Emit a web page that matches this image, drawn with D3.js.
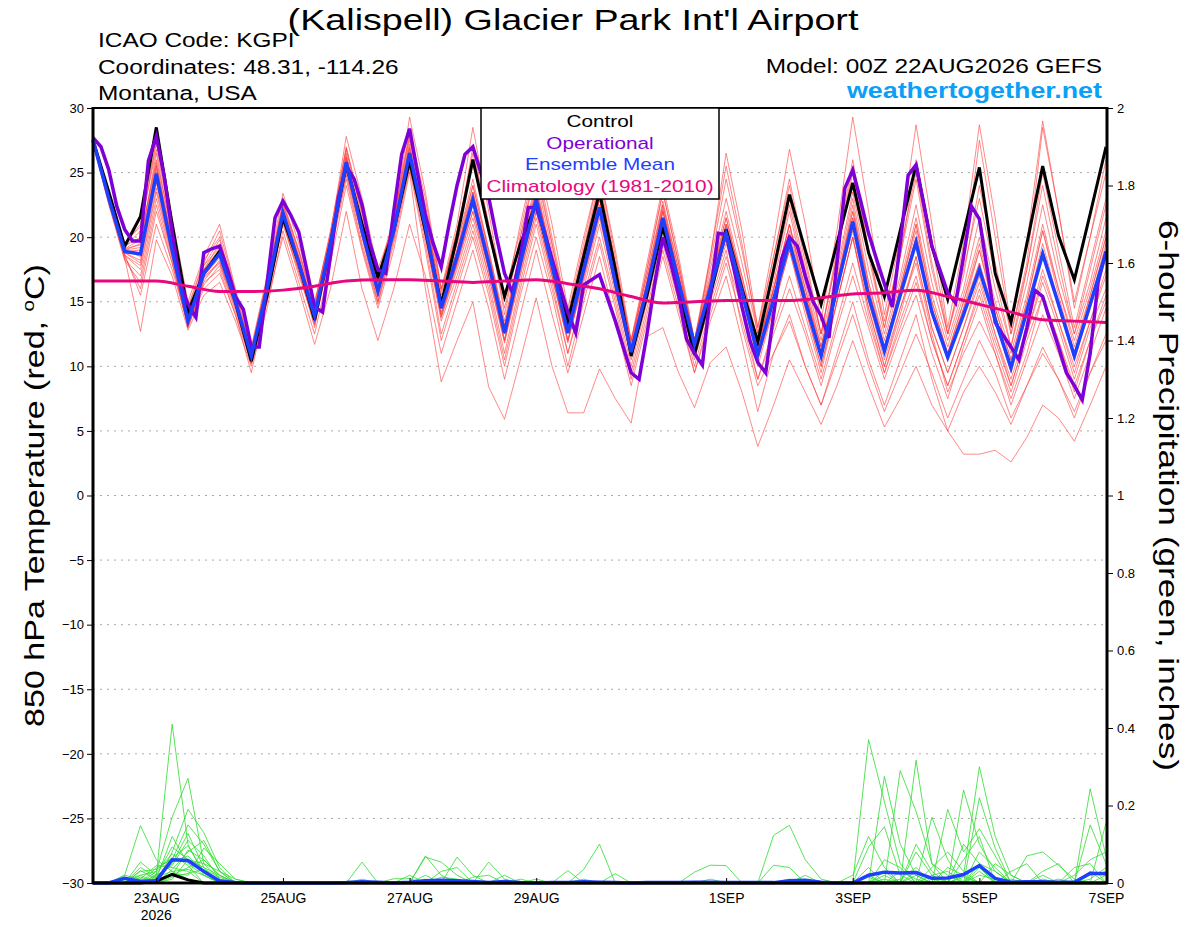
<!doctype html>
<html>
<head>
<meta charset="utf-8">
<title>GEFS 850 hPa Temperature - KGPI</title>
<script src="https://d3js.org/d3.v7.min.js"></script>
<style>
  body { margin: 0; padding: 0; background: #fff; }
  svg { display: block; font-family: "Liberation Sans", Arial, Helvetica, sans-serif; }
  .grid line { stroke: #aaa; stroke-width: 1; stroke-dasharray: 2,5; }
  .axis text { font-size: 13px; fill: #000; }
  .axis line { stroke: #000; stroke-width: 1; }
</style>
</head>
<body>
<div id="chart"></div>
<script>
// ---- data (6-hourly steps from 00Z 22AUG2026) ----
var stepHours = d3.range(0, 385, 6);

var controlTemp = [27.5,23.5,19.3,21.6,28.5,21.0,14.2,17.2,18.9,15.0,10.4,15.5,21.5,18.0,13.6,19.5,25.6,21.0,16.9,20.5,25.9,
  20.5,14.8,20.0,26.0,20.5,15.4,19.5,22.6,18.0,13.5,18.5,23.5,17.5,10.8,15.5,20.8,16.0,10.9,15.5,20.6,
  16.0,11.9,17.5,23.3,19.0,14.8,19.5,24.2,18.8,15.4,20.5,25.6,19.3,15.2,20.3,25.4,17.2,13.4,19.5,25.5,20.1,16.7,21.8,27.0];

var meanTemp = [27.5,23.0,18.9,18.7,24.9,19.0,13.5,17.2,18.7,15.0,10.8,16.0,21.9,18.0,13.9,19.5,25.8,20.5,15.8,20.5,26.5,
  20.8,14.5,18.5,22.9,18.0,12.6,18.0,22.9,17.8,12.6,17.5,22.3,16.5,11.1,16.0,21.5,16.5,11.7,16.0,20.3,
  15.8,10.9,15.2,19.6,15.0,10.8,16.0,21.2,15.4,11.2,15.5,19.6,14.2,10.7,14.0,17.5,13.6,9.9,14.3,18.7,14.8,10.8,14.8,18.8];

// operational run, 3-hourly
var opTemp = [27.7,27.0,25.2,22.4,20.6,19.7,19.7,25.9,27.8,24.7,20.4,16.5,14.8,13.8,18.8,19.1,19.3,17.5,15.4,14.4,11.5,11.5,
  16.5,21.5,22.8,21.7,20.4,17.5,14.6,14.2,18.5,23.0,25.5,24.5,22.5,19.5,17.5,17.2,22.0,26.4,28.4,25.0,21.7,19.5,17.7,
  21.0,24.0,26.4,27.0,25.0,23.1,20.0,17.2,15.7,18.5,22.3,22.3,20.5,18.3,16.2,14.2,12.6,16.3,16.7,17.1,15.3,13.5,11.5,
  9.5,9.0,12.5,16.5,20.0,18.0,15.5,12.1,11.0,10.1,15.5,20.3,20.2,17.5,14.6,12.0,10.3,9.5,14.0,18.3,20.0,19.3,17.0,15.0,
  13.9,12.2,18.0,23.8,25.2,22.8,20.3,18.3,16.4,14.6,19.5,24.8,25.6,22.5,19.3,17.5,15.7,14.9,18.5,22.4,21.4,17.5,13.4,
  12.4,11.5,10.5,13.0,15.9,15.4,13.4,11.5,9.5,8.5,7.4,11.0,16.5,18.9];

// climatology, 12-hourly
var climTemp = [16.6,16.6,16.6,16.2,15.8,15.8,15.9,16.2,16.6,16.7,16.7,16.6,16.5,16.6,16.7,16.4,16.0,15.4,14.9,15.0,15.1,
  15.1,15.1,15.3,15.6,15.7,15.9,15.4,14.8,14.2,13.6,13.5,13.4];

var memberTemp = [
  [27.6,23.2,19.0,19.5,26.5,20.0,14.0,17.5,19.5,15.2,10.5,16.2,22.5,18.5,14.2,20.0,26.5,21.0,16.2,21.0,27.5,22.0,15.5,20.5,26.0,20.5,14.5,20.0,25.0,19.5,13.8,19.0,24.0,18.0,11.8,17.0,22.5,17.5,12.0,17.5,23.0,18.0,12.5,18.5,24.5,18.5,12.5,19.0,26.0,19.0,13.0,19.0,25.0,18.0,12.5,17.5,23.0,17.0,11.5,17.5,24.0,18.0,12.5,17.5,22.5],
  [27.4,22.8,18.6,17.5,23.5,18.5,13.2,16.8,18.0,14.5,10.2,15.5,21.5,17.5,13.0,19.0,25.0,20.0,15.0,20.0,26.0,20.0,13.8,17.5,21.5,17.0,11.8,17.0,22.0,17.0,12.0,16.5,21.5,16.0,10.8,15.5,20.5,16.0,11.2,15.5,19.5,15.0,10.0,14.5,19.0,14.0,9.5,15.0,20.0,14.5,10.0,14.5,18.5,13.0,9.5,13.0,16.5,12.5,8.5,12.5,17.0,13.5,10.0,13.5,17.0],
  [27.5,23.0,19.2,20.5,27.3,21.0,14.5,18.0,20.5,15.8,11.2,16.8,22.8,19.0,14.8,20.5,27.0,22.0,17.0,21.5,28.2,23.0,16.0,21.0,28.5,22.0,15.0,21.0,26.5,21.0,14.5,20.0,25.0,19.0,12.0,18.0,24.0,18.5,12.0,18.5,26.5,20.5,13.0,19.5,26.8,21.0,13.5,20.5,29.3,22.0,14.0,20.0,28.7,21.0,13.0,19.5,28.7,21.5,13.0,19.5,29.0,22.0,14.5,20.0,26.0],
  [27.3,22.6,18.4,12.7,19.8,17.0,12.8,15.5,16.5,13.5,10.0,14.5,20.5,16.5,12.5,18.0,24.0,19.0,14.5,19.0,25.0,16.0,8.8,12.0,15.0,8.4,5.9,10.5,15.3,10.0,6.4,6.4,9.8,7.5,5.6,12.3,13.0,9.5,6.8,10.3,11.5,8.0,3.8,7.0,10.5,8.0,5.5,8.5,12.0,8.5,5.3,7.5,10.0,7.0,5.0,3.2,3.2,3.5,2.6,4.5,7.0,6.0,4.2,7.0,10.0],
  [27.6,23.1,18.8,18.0,25.5,19.5,13.8,17.0,19.0,14.8,11.0,16.5,22.0,18.2,13.5,19.5,26.0,20.5,16.5,20.8,27.0,21.0,14.2,18.0,22.5,17.5,12.0,17.5,22.5,17.0,11.8,17.0,22.0,16.0,10.5,15.5,21.0,16.0,11.0,15.5,20.0,16.0,11.0,16.0,20.0,15.5,11.5,16.5,21.5,15.5,11.0,15.5,20.0,14.5,11.0,14.5,18.0,14.0,10.0,14.5,19.0,15.0,11.0,15.0,19.0],
  [27.5,23.3,19.5,21.0,27.5,21.5,15.0,18.5,21.0,16.0,11.5,17.0,23.4,19.5,15.0,20.2,27.8,23.0,17.5,21.0,29.3,23.5,16.0,20.0,27.0,21.0,15.5,20.5,26.0,20.0,14.0,19.5,25.0,18.5,11.5,17.5,23.5,18.0,11.5,18.5,25.5,19.5,12.5,17.5,23.0,17.5,12.5,18.5,25.5,19.0,13.5,18.5,26.0,19.5,12.5,18.0,27.5,20.0,12.5,18.0,28.5,22.0,15.0,20.0,25.0],
  [27.4,22.9,18.5,16.0,22.0,18.0,13.0,16.5,17.5,14.0,9.5,15.0,20.0,16.0,11.7,16.0,22.0,16.0,12.0,16.0,21.0,17.0,11.0,15.0,19.0,14.5,9.0,14.0,19.0,14.0,9.5,14.0,18.5,13.5,8.5,13.5,18.5,14.0,9.5,13.5,17.0,12.0,6.5,11.0,14.0,10.0,7.0,11.0,15.0,10.5,7.0,10.5,14.0,9.0,5.0,8.0,10.0,8.0,5.5,8.5,11.0,9.0,6.5,9.5,12.0],
  [27.5,23.0,18.9,19.0,24.5,19.0,13.6,17.5,18.5,15.0,10.8,16.0,21.8,18.0,14.0,19.5,25.5,20.5,15.8,20.5,26.5,20.5,14.0,18.0,23.0,17.5,12.5,18.0,23.5,18.0,13.0,17.5,23.0,17.0,11.5,16.0,22.0,17.0,11.5,16.5,21.5,16.5,11.5,16.0,21.0,16.0,11.0,16.5,22.5,16.0,11.5,16.0,21.0,15.0,11.0,15.0,19.0,14.5,10.5,15.0,20.5,16.0,11.5,15.5,20.0],
  [27.6,23.4,19.3,20.0,26.0,20.5,14.2,17.8,19.8,15.5,11.0,16.5,22.5,18.8,14.5,20.0,26.8,21.5,16.8,21.2,27.8,21.8,15.0,19.5,24.5,19.0,13.5,19.0,24.0,18.5,13.0,18.0,23.0,17.0,11.0,16.5,22.5,17.0,11.8,16.5,21.0,16.0,10.5,15.0,19.5,15.5,11.0,16.0,20.5,15.0,10.5,14.5,18.0,12.5,8.0,11.0,13.5,11.0,7.0,10.5,14.0,11.0,7.5,11.0,14.5],
  [27.3,22.7,18.3,17.0,23.0,18.3,13.0,16.3,17.8,14.3,10.3,15.3,21.0,17.3,13.2,18.8,24.8,19.5,15.0,19.8,25.5,19.5,12.5,16.5,20.5,16.0,10.5,16.0,21.0,16.0,11.0,15.5,20.0,15.0,9.5,14.5,19.5,15.0,10.0,14.5,18.5,14.5,9.0,12.5,16.0,12.5,8.5,13.0,17.0,13.0,9.0,12.5,15.5,11.0,7.5,11.5,15.0,11.0,7.5,11.0,15.5,12.0,8.0,12.0,15.0],
  [27.5,23.1,19.0,18.5,25.0,19.2,13.7,17.3,18.8,15.2,10.6,16.2,22.2,18.3,14.0,19.8,26.2,20.8,16.0,20.6,26.8,21.0,14.8,19.0,23.5,18.5,13.0,18.5,23.5,18.5,13.0,18.0,23.0,17.0,11.5,16.5,22.0,17.0,12.0,16.5,21.0,16.5,11.5,16.5,22.0,16.5,11.5,17.0,23.0,16.5,12.0,16.5,21.5,15.5,11.5,15.5,20.0,15.0,11.0,15.5,21.0,16.0,12.0,16.0,20.5],
  [27.4,22.8,18.7,15.5,21.0,17.5,13.2,16.0,17.2,14.0,10.2,15.0,21.2,17.0,13.5,19.2,25.2,20.0,15.5,20.3,26.2,20.0,13.5,17.0,21.0,16.5,11.0,16.5,21.5,16.5,11.0,16.0,21.0,15.5,10.0,15.0,20.0,15.5,10.5,15.0,19.0,13.0,8.5,11.0,13.5,10.0,7.0,10.5,14.0,10.0,6.5,9.5,12.5,9.5,6.0,9.0,12.0,9.5,6.0,8.5,11.5,9.0,6.0,9.5,12.5],
  [27.5,23.0,19.1,19.8,25.8,19.8,13.9,17.8,19.2,15.3,10.9,16.3,22.0,18.5,14.3,19.9,26.3,21.2,16.3,20.9,27.2,22.0,15.2,19.5,24.0,19.0,13.2,19.0,24.5,19.0,13.5,18.5,23.5,17.5,12.0,17.0,22.8,17.5,12.0,17.0,22.0,17.0,12.0,17.0,22.5,17.0,12.0,17.5,23.5,17.5,12.5,17.0,22.5,16.5,12.0,16.0,21.5,16.0,11.5,16.5,22.5,17.0,12.5,16.5,21.5],
  [27.6,23.2,18.8,18.2,24.2,18.8,13.4,17.0,18.4,14.8,10.7,15.8,21.6,17.8,13.8,19.3,25.5,20.3,15.6,20.4,26.4,20.5,14.0,18.0,22.0,17.5,12.0,17.5,22.5,17.5,12.0,17.0,22.0,16.0,10.8,15.8,21.0,16.0,11.5,15.8,20.0,15.5,10.5,15.0,19.5,14.5,10.0,15.0,20.0,14.0,9.5,13.5,17.0,12.0,8.5,12.0,15.5,11.5,8.0,12.0,15.5,12.0,8.5,12.0,15.5],
  [27.5,23.0,19.0,19.2,25.3,19.5,13.7,17.4,18.9,15.1,10.8,16.1,21.9,18.1,14.1,19.6,25.9,20.6,15.9,20.7,26.6,21.3,15.0,19.0,24.0,18.8,13.0,18.5,23.8,18.3,13.0,18.0,23.0,17.0,11.5,16.5,22.0,17.0,12.0,16.8,21.5,16.5,11.5,16.0,21.0,15.5,11.0,16.5,22.0,16.0,11.5,16.0,20.5,14.5,10.5,14.5,19.0,14.0,10.0,14.5,19.5,15.0,11.0,15.0,19.5],
  [27.3,22.5,18.2,16.5,22.5,18.0,13.1,16.6,18.2,14.6,10.4,15.6,21.3,17.4,13.3,18.7,24.5,19.2,14.8,19.5,25.3,19.0,12.0,16.0,20.0,15.5,10.0,15.5,20.0,15.5,10.0,15.0,19.5,14.5,9.0,14.0,19.0,14.5,9.5,14.0,18.0,13.5,9.0,13.0,17.0,13.0,9.0,13.5,18.0,13.5,9.5,13.0,16.5,12.0,8.5,12.0,16.0,12.0,8.5,12.5,16.5,13.0,9.0,13.0,16.0],
  [27.7,23.5,19.6,20.8,26.8,20.8,14.6,18.2,20.0,15.6,11.3,16.7,22.6,19.0,14.7,20.3,26.9,21.8,16.9,21.3,28.0,22.5,15.8,20.5,26.5,21.0,14.0,20.0,25.5,19.5,13.5,19.0,24.5,18.0,12.0,17.5,23.5,18.0,12.0,18.0,24.5,19.0,13.0,18.5,24.0,18.0,12.5,18.5,25.0,18.5,13.0,18.5,24.5,17.5,12.5,17.0,24.0,18.0,12.5,17.5,25.0,19.0,13.0,18.0,23.0],
  [27.5,23.0,18.9,18.8,24.8,19.1,13.5,17.1,18.6,14.9,10.7,15.9,21.7,17.9,13.9,19.4,25.6,20.4,15.7,20.3,26.3,20.5,14.5,18.5,23.0,18.0,12.5,18.0,23.0,17.8,12.5,17.5,22.5,16.5,11.0,16.0,21.5,16.5,11.5,16.0,20.5,16.0,11.0,15.5,20.5,15.5,11.0,16.0,21.5,15.5,11.0,15.5,20.0,14.0,10.5,14.0,18.0,13.5,9.5,14.0,19.0,14.5,10.5,14.5,18.5],
  [27.4,22.9,18.6,17.8,23.8,18.6,13.3,16.9,18.1,14.6,10.5,15.7,21.4,17.6,13.6,19.1,25.3,20.1,15.4,20.1,25.9,20.0,13.8,17.8,22.0,17.0,12.0,17.2,22.0,17.0,12.0,16.8,21.8,16.2,10.8,15.5,21.0,16.2,11.2,15.8,20.0,15.5,10.5,14.5,19.0,14.5,10.0,15.0,20.0,14.5,10.0,14.0,18.5,13.0,9.5,13.0,17.0,12.5,9.0,13.0,17.5,13.5,9.5,13.5,17.5],
  [27.6,23.2,19.1,19.4,25.6,19.6,13.8,17.5,19.1,15.2,10.9,16.2,22.1,18.4,14.2,19.8,26.1,20.9,16.1,20.8,26.9,21.5,15.0,19.0,23.5,18.5,13.0,18.8,23.5,18.5,13.0,18.0,23.0,17.0,11.5,16.5,22.2,17.0,11.8,16.5,21.0,17.0,11.5,16.0,21.0,16.0,11.5,16.5,22.0,16.5,11.5,16.0,21.0,15.0,11.0,15.0,19.5,14.5,10.5,15.0,20.5,15.5,11.0,15.5,20.0]
];

// 6-hour precipitation (inches)
var controlPcp = [0,0,0,0,0.005,0.022,0.008,0,0,0, 0,0,0,0,0,0,0,0,0,0, 0,0,0,0,0,0,0,0,0,0, 0,0,0,0,0,0,0,0,0,0, 0,0,0,0,0,0,0,0,0,0, 0,0,0,0,0,0,0,0,0,0, 0,0,0,0,0];

var meanPcp = [0,0,0.012,0.004,0.006,0.06,0.058,0.03,0.005,0.001, 0,0,0,0,0,0,0.001,0.003,0.002,0, 0.002,0.006,0.007,0.006,0.004,0.001,0.004,0.001,0,0.001,
  0.001,0.003,0.002,0.001,0,0.001,0.001,0.001,0.002,0.002, 0.001,0.001,0.001,0.001,0.006,0.007,0.002,0,0,0.02,
  0.028,0.026,0.027,0.012,0.013,0.022,0.045,0.012,0.002,0.003, 0.003,0.002,0.002,0.025,0.024];

var memberPcp = [
  [0,0,0.02,0.148,0.06,0.03,0.01,0,0,0, 0,0,0,0,0,0,0,0,0,0, 0,0.07,0.02,0,0,0,0,0,0,0, 0,0,0,0,0,0,0,0,0,0, 0,0,0,0,0,0,0,0,0,0.37, 0.21,0.05,0,0,0,0.02,0.3,0.12,0.02,0, 0,0,0,0,0],
  [0,0,0,0.054,0.02,0.41,0.1,0.02,0,0, 0,0,0,0,0,0,0,0,0,0, 0,0,0,0,0,0,0,0,0,0, 0,0,0,0,0,0,0,0,0,0, 0,0,0,0.123,0.149,0.06,0.01,0,0,0, 0,0,0.317,0.05,0.02,0,0,0,0,0, 0,0,0,0.243,0.07],
  [0,0,0.01,0,0.03,0.17,0.27,0.05,0.01,0, 0,0,0,0,0,0,0,0.054,0,0, 0,0,0,0.067,0.02,0,0,0,0,0, 0,0,0,0,0,0,0,0,0,0, 0,0,0,0,0,0,0,0,0,0, 0.275,0.1,0.02,0,0,0,0.22,0.09,0,0, 0,0,0,0,0.155],
  [0,0,0,0.02,0,0.08,0.19,0.13,0.04,0, 0,0,0,0,0,0,0,0,0,0, 0,0,0,0,0,0.054,0.01,0,0,0, 0,0,0,0,0,0,0,0,0,0, 0,0,0,0,0,0,0,0,0,0, 0,0.29,0.185,0.05,0,0.24,0.1,0.03,0,0, 0,0,0,0,0],
  [0,0,0.01,0,0.04,0.06,0.15,0.1,0.03,0, 0,0,0,0,0,0,0,0,0,0, 0,0.067,0.054,0.02,0,0,0,0,0,0, 0,0,0,0,0,0,0,0,0,0, 0,0,0,0,0,0,0,0,0,0.093, 0.145,0.02,0,0,0.19,0.08,0.14,0.07,0,0.07, 0.08,0.046,0.01,0,0],
  [0,0,0,0.032,0.01,0.12,0.05,0.02,0,0, 0,0,0,0,0,0,0,0,0,0, 0,0,0,0,0,0,0,0,0,0, 0,0.035,0.1,0,0,0,0,0,0.028,0.046, 0.045,0,0,0,0,0,0,0,0,0, 0,0,0,0.17,0.06,0,0.04,0,0,0, 0,0,0,0.15,0.05],
  [0,0,0,0,0,0.035,0.08,0.11,0.03,0.01, 0,0,0,0,0,0,0,0,0,0.011, 0.011,0,0,0,0,0,0,0,0,0, 0,0,0,0,0,0,0,0,0,0, 0,0,0,0.046,0.04,0,0,0,0.02,0.12, 0.04,0,0.08,0.02,0,0,0,0,0,0, 0,0,0.02,0.06,0.08],
  [0,0,0.02,0.01,0.045,0.04,0.03,0,0,0, 0,0,0,0,0,0,0,0,0,0, 0,0,0,0,0,0,0,0.01,0,0, 0,0,0,0.024,0,0,0,0,0,0, 0,0,0,0,0,0,0,0,0,0, 0.06,0.04,0,0,0,0,0.05,0.03,0,0, 0.03,0.05,0,0,0],
  [0,0,0,0,0.02,0.093,0.06,0.04,0.02,0, 0,0,0,0,0,0,0,0,0,0, 0,0,0.03,0.04,0,0,0,0,0,0, 0,0,0,0,0,0,0,0,0,0, 0,0,0,0,0,0,0,0,0,0.04, 0,0,0.1,0.03,0,0.06,0.12,0,0.01,0, 0,0,0,0,0],
  [0,0,0,0.015,0,0.02,0.04,0.06,0.02,0, 0,0,0,0,0,0,0,0,0,0, 0,0,0,0,0,0,0,0,0.01,0, 0.032,0,0,0,0,0,0,0,0,0, 0,0,0,0,0.01,0,0,0,0,0, 0,0.03,0.01,0,0,0,0,0,0.03,0.05, 0,0,0,0.03,0],
  [0,0,0,0,0.01,0.05,0.128,0.04,0,0, 0,0,0,0,0,0,0,0.01,0,0, 0,0.02,0,0,0,0,0,0,0,0, 0,0,0,0,0,0,0,0,0,0, 0,0,0,0,0,0.02,0,0,0,0, 0.02,0,0,0.04,0.08,0.03,0,0,0,0, 0,0,0.04,0.05,0],
  [0,0,0,0.03,0.035,0.065,0.096,0.03,0,0, 0,0,0,0,0,0,0,0,0,0, 0,0,0,0,0.015,0.02,0,0,0,0, 0,0,0,0,0,0,0,0,0,0, 0,0,0,0,0,0,0,0,0,0.02, 0,0,0,0,0,0,0.08,0.04,0,0, 0,0,0,0,0.02],
  [0,0,0.015,0,0,0.025,0.02,0.09,0.05,0.01, 0,0,0,0,0,0,0,0,0,0, 0.02,0,0,0,0,0,0,0,0,0, 0,0.01,0,0,0,0,0,0,0,0, 0,0,0,0,0,0,0,0,0,0, 0,0.01,0.04,0,0,0.1,0.05,0,0,0, 0.02,0,0,0,0],
  [0,0,0,0,0.015,0.03,0.035,0.02,0,0, 0,0,0,0,0,0,0,0,0,0, 0,0,0.015,0.01,0,0,0,0,0,0, 0,0,0,0,0,0,0,0,0,0, 0,0,0,0,0,0,0,0,0,0, 0,0,0,0.02,0.03,0,0,0.05,0.02,0, 0,0,0,0.02,0.03],
  [0,0,0,0.01,0,0.01,0.06,0.05,0.03,0, 0,0,0,0,0,0,0,0,0,0, 0,0,0,0,0,0,0.02,0,0,0, 0,0,0,0,0,0,0,0,0,0.01, 0,0,0,0,0,0,0,0,0,0, 0.03,0,0.02,0,0,0,0.03,0,0,0, 0,0.01,0,0,0],
  [0,0,0,0,0.02,0.045,0.11,0.07,0.01,0, 0,0,0,0,0,0,0,0,0,0, 0,0,0,0,0,0,0,0,0,0, 0,0,0,0,0,0,0,0,0,0, 0,0,0,0,0,0,0,0,0,0, 0.01,0,0,0,0,0.015,0,0,0,0, 0,0,0,0,0],
  [0,0,0,0.04,0.015,0.055,0.07,0.025,0,0, 0,0,0,0,0,0,0,0,0,0, 0,0,0,0,0,0,0,0,0,0, 0,0,0,0,0,0,0,0,0,0, 0,0,0,0,0,0,0,0,0,0, 0,0,0,0,0,0,0.02,0.01,0,0, 0,0,0,0,0],
  [0,0,0,0,0,0.015,0.025,0.035,0.015,0, 0,0,0,0,0,0,0,0,0,0, 0,0,0,0,0,0,0,0,0,0, 0,0,0,0,0,0,0,0,0,0, 0,0,0,0,0,0,0,0,0,0.015, 0,0,0,0,0.04,0.02,0,0,0,0, 0,0,0,0,0],
  [0,0,0.008,0.02,0.03,0.075,0.045,0,0,0, 0,0,0,0,0,0,0,0,0,0, 0,0.01,0,0,0,0,0,0,0,0, 0,0,0,0,0,0,0,0,0,0, 0,0,0,0,0,0,0,0,0,0, 0,0,0.03,0.01,0,0,0,0,0,0, 0,0,0,0,0],
  [0,0,0,0,0.01,0.02,0.085,0.06,0.02,0, 0,0,0,0,0,0,0,0,0,0, 0,0,0,0,0,0,0,0,0,0, 0,0,0,0,0,0,0,0,0,0, 0,0,0,0,0,0,0,0,0,0, 0,0,0,0,0,0,0,0,0,0, 0.01,0,0,0.01,0.04]
];

// axis ticks
var tempTicks = [-30,-25,-20,-15,-10,-5,0,5,10,15,20,25,30];
var pcpTicks = [0,0.2,0.4,0.6,0.8,1,1.2,1.4,1.6,1.8,2];
var dateTickHours = [24,72,120,168,240,288,336,384];
var dateTickLabels = ["23AUG","25AUG","27AUG","29AUG","1SEP","3SEP","5SEP","7SEP"];

// ---- chart ----
var W = 1200, H = 927;
var plot = {left: 93, right: 1107, top: 108, bottom: 883};
var wide = 1.22;   // the original lettering is set wider than Liberation Sans

var svg = d3.select("#chart").append("svg")
    .attr("width", W)
    .attr("height", H);

// stretch a text element horizontally to the wider lettering of the original
function widen(sel, k) {
  sel.each(function() {
    var len = this.getComputedTextLength();
    d3.select(this).attr("textLength", len * k).attr("lengthAdjust", "spacingAndGlyphs");
  });
  return sel;
}

var x = d3.scaleLinear().domain([0, 384]).range([plot.left, plot.right - 1]);
var yT = d3.scaleLinear().domain([-30, 30]).range([plot.bottom, plot.top]);
var yP = d3.scaleLinear().domain([0, 2]).range([plot.bottom, plot.top]);

// dotted grid
svg.append("g").attr("class", "grid")
  .selectAll("line").data(tempTicks.filter(function(d) { return d > -30 && d < 30; }))
  .enter().append("line")
    .attr("x1", plot.left).attr("x2", plot.right)
    .attr("y1", function(d) { return yT(d); })
    .attr("y2", function(d) { return yT(d); });

var lineT = d3.line().x(function(d) { return x(d[0]); }).y(function(d) { return yT(d[1]); });
var lineP = d3.line().x(function(d) { return x(d[0]); }).y(function(d) { return yP(d[1]); });

function pairs(hours, vals) {
  return vals.map(function(v, i) { return [hours[i], v]; });
}
var opHours = opTemp.map(function(v, i) { return i * 3; });
var climHours = climTemp.map(function(v, i) { return i * 12; });

var marks = svg.append("g");

marks.selectAll("path.member").data(memberTemp).enter().append("path")
    .attr("class", "member")
    .attr("d", function(d) { return lineT(pairs(stepHours, d)); })
    .attr("fill", "none").attr("stroke", "#ff3b3b").attr("stroke-opacity", 0.75).attr("stroke-width", 0.8);

marks.selectAll("path.pmember").data(memberPcp).enter().append("path")
    .attr("class", "pmember")
    .attr("d", function(d) { return lineP(pairs(stepHours, d)); })
    .attr("fill", "none").attr("stroke", "#2fdc2f").attr("stroke-width", 0.8);

marks.append("path")
    .attr("d", lineP(pairs(stepHours, controlPcp)))
    .attr("fill", "none").attr("stroke", "#000").attr("stroke-width", 3);
marks.append("path")
    .attr("d", lineP(pairs(stepHours, meanPcp)))
    .attr("fill", "none").attr("stroke", "#1f3fff").attr("stroke-width", 3.5);

marks.append("path")
    .attr("d", lineT(pairs(stepHours, controlTemp)))
    .attr("fill", "none").attr("stroke", "#000").attr("stroke-width", 3).attr("stroke-linejoin", "miter");
marks.append("path")
    .attr("d", lineT(pairs(opHours, opTemp)))
    .attr("fill", "none").attr("stroke", "#7f00d6").attr("stroke-width", 3.5);
marks.append("path")
    .attr("d", lineT(pairs(stepHours, meanTemp)))
    .attr("fill", "none").attr("stroke", "#1f3fff").attr("stroke-width", 3.5);
marks.append("path")
    .attr("d", d3.line().curve(d3.curveMonotoneX)
        .x(function(d) { return x(d[0]); }).y(function(d) { return yT(d[1]); })(pairs(climHours, climTemp)))
    .attr("fill", "none").attr("stroke", "#e8087e").attr("stroke-width", 3);

// axes
var leftAxis = svg.append("g").attr("class", "axis")
    .attr("transform", "translate(" + plot.left + ",0)")
    .call(d3.axisLeft(yT).tickValues(tempTicks).tickSize(6).tickPadding(3));
leftAxis.select(".domain").remove();

var rightAxis = svg.append("g").attr("class", "axis")
    .attr("transform", "translate(" + plot.right + ",0)")
    .call(d3.axisRight(yP).tickValues(pcpTicks).tickSize(6).tickPadding(4)
      .tickFormat(function(d) { return Number.isInteger(d) ? d3.format("d")(d) : d3.format(".1f")(d); }));
rightAxis.select(".domain").remove();

var bottomAxis = svg.append("g").attr("class", "axis")
    .attr("transform", "translate(0," + plot.bottom + ")")
    .call(d3.axisBottom(x).tickValues(dateTickHours).tickSize(-5).tickPadding(10)
      .tickFormat(function(d, i) { return dateTickLabels[i]; }));
bottomAxis.select(".domain").remove();
bottomAxis.selectAll("text").style("font-size", "14px");
bottomAxis.append("text")
    .attr("x", x(24)).attr("y", 37)
    .attr("text-anchor", "middle")
    .style("font-size", "14px").attr("fill", "#000")
    .text("2026");

// frame
svg.append("line").attr("x1", plot.left).attr("x2", plot.right).attr("y1", plot.top).attr("y2", plot.top)
    .attr("stroke", "#000").attr("stroke-width", 2);
svg.append("line").attr("x1", plot.left - 1).attr("x2", plot.right + 1).attr("y1", plot.bottom).attr("y2", plot.bottom)
    .attr("stroke", "#000").attr("stroke-width", 3);
svg.append("line").attr("x1", plot.left).attr("x2", plot.left).attr("y1", plot.top - 1).attr("y2", plot.bottom + 1)
    .attr("stroke", "#000").attr("stroke-width", 3);
svg.append("line").attr("x1", plot.right).attr("x2", plot.right).attr("y1", plot.top - 1).attr("y2", plot.bottom + 1)
    .attr("stroke", "#000").attr("stroke-width", 3);

// legend
var legend = svg.append("g");
legend.append("rect")
    .attr("x", 481).attr("y", plot.top).attr("width", 238).attr("height", 91)
    .attr("fill", "#fff").attr("stroke", "#000").attr("stroke-width", 1.5);
var legendItems = [
  {label: "Control", color: "#000"},
  {label: "Operational", color: "#7f00d6"},
  {label: "Ensemble Mean", color: "#1f3fff"},
  {label: "Climatology (1981-2010)", color: "#e8087e"}
];
widen(legend.selectAll("text").data(legendItems).enter().append("text")
    .attr("x", 600)
    .attr("y", function(d, i) { return 127 + i * 21.7; })
    .attr("text-anchor", "middle")
    .style("font-size", "17px")
    .attr("fill", function(d) { return d.color; })
    .text(function(d) { return d.label; }), wide);

// titles
widen(svg.append("text").attr("x", 573).attr("y", 30).attr("text-anchor", "middle")
    .style("font-size", "29px").text("(Kalispell) Glacier Park Int'l Airport"), 1.3);
var info = ["ICAO Code: KGPI", "Coordinates: 48.31, -114.26", "Montana, USA"];
widen(svg.selectAll("text.info").data(info).enter().append("text")
    .attr("class", "info")
    .attr("x", 98).attr("y", function(d, i) { return 47 + i * 26.5; })
    .style("font-size", "20px").text(function(d) { return d; }), wide);
widen(svg.append("text").attr("x", 1102).attr("y", 73).attr("text-anchor", "end")
    .style("font-size", "20px").text("Model: 00Z 22AUG2026 GEFS"), wide);
widen(svg.append("text").attr("x", 1102).attr("y", 98).attr("text-anchor", "end")
    .style("font-size", "22px").style("font-weight", "bold").attr("fill", "#0aa0f6")
    .text("weathertogether.net"), wide);

var yTitle = svg.append("text")
    .attr("transform", "translate(44," + (plot.top + plot.bottom) / 2 + ") rotate(-90)")
    .attr("text-anchor", "middle")
    .style("font-size", "28px");
yTitle.append("tspan").text("850 hPa Temperature (red, ");
yTitle.append("tspan").attr("dy", -10).style("font-size", "17px").text("o");
yTitle.append("tspan").attr("dy", 10).text("C)");
widen(yTitle, 1.215);

widen(svg.append("text")
    .attr("transform", "translate(1159," + (plot.top + plot.bottom) / 2 + ") rotate(90)")
    .attr("text-anchor", "middle")
    .style("font-size", "28px")
    .text("6-hour Precipitation (green, inches)"), 1.26);
</script>
</body>
</html>
